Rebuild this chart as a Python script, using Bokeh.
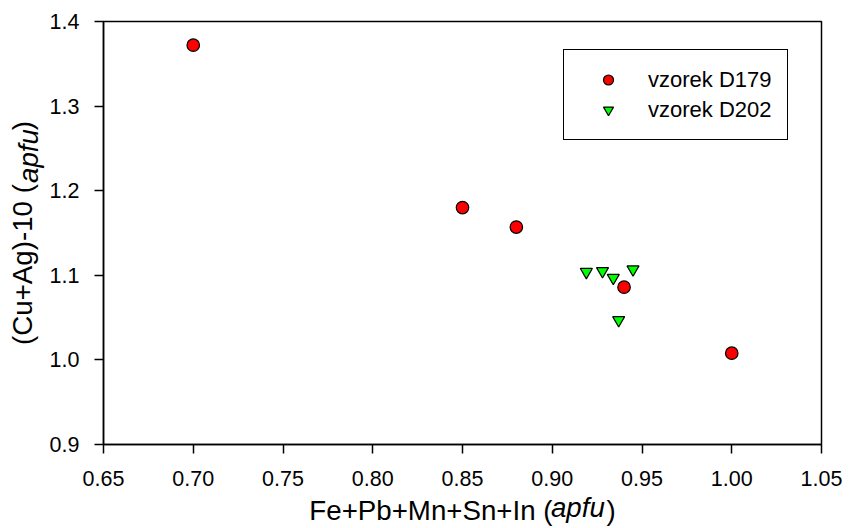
from bokeh.plotting import figure
from bokeh.models import Range1d, FixedTicker, Legend, LegendItem, PrintfTickFormatter, LinearAxis
from bokeh.embed import file_html
from bokeh.resources import INLINE

# data
d179_x = [0.70, 0.85, 0.88, 0.94, 1.00]
d179_y = [1.372, 1.180, 1.157, 1.086, 1.008]
d202_x = [0.919, 0.928, 0.934, 0.945, 0.937]
d202_y = [1.104, 1.105, 1.097, 1.107, 1.047]
series_names = ["vzorek D179", "vzorek D202"]
x_ticks = [0.65, 0.70, 0.75, 0.80, 0.85, 0.90, 0.95, 1.00, 1.05]
y_ticks = [0.9, 1.0, 1.1, 1.2, 1.3, 1.4]
x_title = ["Fe+Pb+Mn+Sn+In (", "apfu", ")"]
y_title = ["(Cu+Ag)-10 (", "apfu", ")"]

FONT = "Liberation Sans"
TITLE_SIZE = 27.7
TITLE_H = 31          # height of a title text box (px)
W, H = 859, 528
BL, BR, BT, BB = 103, 38, 21, 83

NBSP = "\u00a0"
EM = {"F": .611, "e": .556, "+": .584, "P": .667, "b": .556, "M": .833, "n": .556,
      "S": .667, "I": .278, " ": .278, "(": .333, ")": .333, "a": .556, "p": .556,
      "f": .278, "u": .556, "C": .722, "A": .667, "g": .556, "-": .333, "1": .556, "0": .556}
SP = 0.278

def em_width(s):
    return sum(EM.get(c, .556) for c in s)

def split_title(parts):
    # normal text with a same-width gap, and the italic word padded so that,
    # both being centred, the word falls into the gap
    n_gap = round(em_width(parts[1]) / SP)
    normal = parts[0] + NBSP * n_gap + parts[2]
    total = em_width(parts[0]) + em_width(parts[1]) + em_width(parts[2])
    shift = -total / 2 + em_width(parts[0])          # word start relative to centre
    lead = round((shift + em_width(parts[1]) / 2) / (SP / 2))
    italic = NBSP * lead + parts[1]
    return normal, italic

x_normal, x_italic = split_title(x_title)
y_normal, y_italic = split_title(y_title)

p = figure(width=W, height=H, output_backend="svg", toolbar_location=None,
           x_range=Range1d(0.65, 1.05), y_range=Range1d(0.9, 1.4),
           min_border_left=BL, min_border_right=BR, min_border_top=BT, min_border_bottom=BB)
p.background_fill_color = "white"
p.border_fill_color = "white"
p.outline_line_color = "black"
p.outline_line_width = 1.5
p.grid.visible = False

for ax in (p.xaxis, p.yaxis):
    ax.axis_line_color = "black"
    ax.axis_line_width = 1.5
    ax.major_tick_line_color = "black"
    ax.major_tick_line_width = 1.5
    ax.major_tick_in = 0
    ax.major_tick_out = 9
    ax.minor_tick_line_color = None
    ax.major_label_text_font = FONT
    ax.major_label_text_font_size = "21.5px"
    ax.major_label_text_color = "black"
    ax.axis_label_text_font = FONT
    ax.axis_label_text_font_size = f"{TITLE_SIZE}px"
    ax.axis_label_text_font_style = "normal"
    ax.axis_label_text_color = "black"

p.xaxis.major_label_standoff = 17
p.yaxis.major_label_standoff = 15
X_STANDOFF, Y_STANDOFF = 6, 9
p.xaxis.axis_label_standoff = X_STANDOFF
p.yaxis.axis_label_standoff = Y_STANDOFF
p.xaxis.axis_label = x_normal
p.yaxis.axis_label = y_normal

p.xaxis.ticker = FixedTicker(ticks=x_ticks)
p.yaxis.ticker = FixedTicker(ticks=y_ticks)
p.xaxis.formatter = PrintfTickFormatter(format="%.2f")
p.yaxis.formatter = PrintfTickFormatter(format="%.1f")

# italic word: label of an extra invisible axis pulled back onto the main title's line
def italic_axis(text, standoff):
    return LinearAxis(ticker=FixedTicker(ticks=[]),
                      axis_line_color=None, major_tick_line_color=None, minor_tick_line_color=None,
                      major_tick_out=0, major_tick_in=0, minor_tick_out=0, major_label_standoff=0,
                      major_label_text_color=None, axis_label=text,
                      axis_label_text_font=FONT, axis_label_text_font_size=f"{TITLE_SIZE}px",
                      axis_label_text_font_style="italic", axis_label_text_color="black",
                      axis_label_standoff=standoff)

p.add_layout(italic_axis(x_italic, -(X_STANDOFF + TITLE_H)), "below")
p.add_layout(italic_axis(y_italic, -(Y_STANDOFF + TITLE_H)), "left")

r1 = p.scatter(d179_x, d179_y, marker="circle", size=12.5, fill_color="#FF0000",
               line_color="black", line_width=1.2)
r2 = p.scatter(d202_x, d202_y, marker="inverted_triangle", size=12, fill_color="#00FF00",
               line_color="black", line_width=1.2)

legend = Legend(items=[LegendItem(label=series_names[0], renderers=[r1]),
                       LegendItem(label=series_names[1], renderers=[r2])],
                location=(460, 304), padding=15, spacing=1, margin=0,
                glyph_width=58, glyph_height=25, label_height=29, label_standoff=11,
                label_text_font=FONT, label_text_font_size="22px", label_text_color="black",
                border_line_color="black", border_line_width=1.5, border_line_alpha=1.0,
                background_fill_color="white", background_fill_alpha=1.0)
p.add_layout(legend, "center")

open("out.html", "w").write(file_html(p, INLINE))
